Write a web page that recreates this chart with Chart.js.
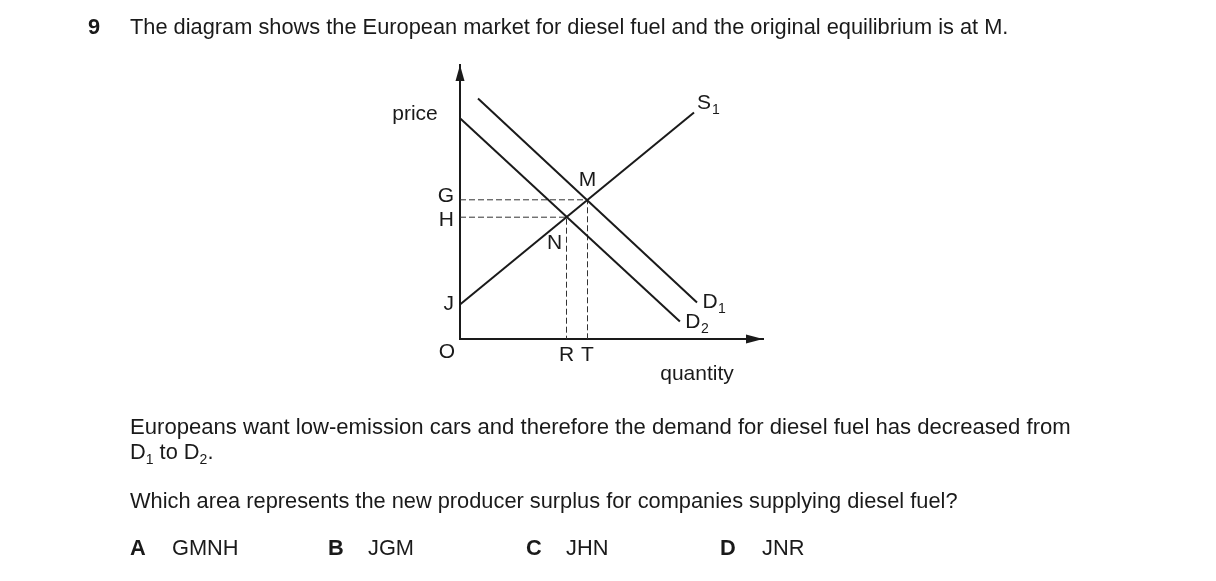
<!DOCTYPE html>
<html>
<head>
<meta charset="utf-8">
<title>Diesel market</title>
<script src="https://cdn.jsdelivr.net/npm/chart.js@4.4.1/dist/chart.umd.min.js"></script>
<style>
  body { margin: 0; background: #fff; font-family: "Liberation Sans", Arial, sans-serif; color: #1a1a1a; }
  #page { position: relative; width: 1216px; height: 581px; overflow: hidden; }
  #wrap { position: absolute; left: 0; top: 0; width: 1216px; height: 581px; }
  .t { position: absolute; font-size: 21.8px; line-height: 24px; white-space: nowrap; }
  .b { font-weight: bold; }
  .s { font-size: 14px; position: relative; top: 5px; line-height: 0; }
</style>
</head>
<body>
<div id="page">
  <div id="wrap"><canvas id="market"></canvas></div>
  <div class="t b" style="left:88px;top:15px">9</div>
  <div class="t" style="left:130px;top:15px">The diagram shows the European market for diesel fuel and the original equilibrium is at M.</div>
  <div class="t" style="left:130px;top:415px;font-size:22.1px">Europeans want low-emission cars and therefore the demand for diesel fuel has decreased from</div>
  <div class="t" style="left:130px;top:440px">D<span class="s">1</span> to D<span class="s">2</span>.</div>
  <div class="t" style="left:130px;top:489px">Which area represents the new producer surplus for companies supplying diesel fuel?</div>
  <div class="t b" style="left:130px;top:536px">A</div>
  <div class="t" style="left:172px;top:536px">GMNH</div>
  <div class="t b" style="left:328px;top:536px">B</div>
  <div class="t" style="left:368px;top:536px">JGM</div>
  <div class="t b" style="left:526px;top:536px">C</div>
  <div class="t" style="left:566px;top:536px">JHN</div>
  <div class="t b" style="left:720px;top:536px">D</div>
  <div class="t" style="left:762px;top:536px">JNR</div>
</div>
<script>
// curves (quantity, price)
var supplyQ = [0, 78];
var supplyP = [11.5, 75.5];
var demand1Q = [6, 79];
var demand1P = [80.2, 12.2];
var demand2Q = [0, 73.3];
var demand2P = [73.6, 5.8];

// equilibrium points
var priceG = 46.4, priceH = 40.6, priceJ = 11.5;
var qtyR = 35.5, qtyT = 42.5;

var yTickValues = [priceG, priceH, priceJ];
var yTickLabels = ['G', 'H', 'J'];
var xTickValues = [qtyR, qtyT];
var xTickLabels = ['R', 'T'];

var ink = '#1a1a1a';
var fam = '"Liberation Sans", Arial, sans-serif';
var font21 = '21px ' + fam;
var font14 = '14px ' + fam;
// G and H sit a little apart from their dashed lines (px, up is negative)
var yTickNudge = [-3.5, 3, 0];

function pts(q, p) {
    return q.map(function(v, i) { return { x: v, y: p[i] }; });
}

// text on the diagram, anchored at data coords + pixel nudge
var marks = [
    { text: 'price', x: 0, y: priceG, dx: -45, dy: -86 },
    { text: 'quantity', x: 79, y: 0, dx: 0, dy: 35 },
    { text: 'O', x: 0, y: 0, dx: -13, dy: 13 },
    { text: 'M', x: qtyT, y: priceG, dx: 0, dy: -20 },
    { text: 'N', x: qtyR, y: priceH, dx: -12, dy: 26 },
    { text: 'S', sub: '1', x: supplyQ[1], y: supplyP[1], dx: 10, dy: -9 },
    { text: 'D', sub: '1', x: demand1Q[1], y: demand1P[1], dx: 13, dy: 0 },
    { text: 'D', sub: '2', x: demand2Q[1], y: demand2P[1], dx: 13, dy: 1 }
];

var diagramText = {
    id: 'diagramText',
    afterDraw: function(chart) {
        var ctx = chart.ctx, a = chart.chartArea;
        var xs = chart.scales.x, ys = chart.scales.y;
        ctx.save();
        ctx.fillStyle = ink;
        // arrow heads
        ctx.beginPath();
        ctx.moveTo(a.left, a.top);
        ctx.lineTo(a.left - 4.5, a.top + 16);
        ctx.lineTo(a.left + 4.5, a.top + 16);
        ctx.closePath();
        ctx.fill();
        ctx.beginPath();
        ctx.moveTo(a.right, a.bottom);
        ctx.lineTo(a.right - 17, a.bottom - 4.5);
        ctx.lineTo(a.right - 17, a.bottom + 4.5);
        ctx.closePath();
        ctx.fill();

        ctx.textAlign = 'center';
        ctx.textBaseline = 'middle';
        marks.forEach(function(m) {
            var px = xs.getPixelForValue(m.x) + m.dx;
            var py = ys.getPixelForValue(m.y) + m.dy;
            ctx.font = font21;
            ctx.fillText(m.text, px, py);
            if (m.sub) {
                ctx.font = font14;
                ctx.fillText(m.sub, px + 12, py + 7);
            }
        });
        ctx.restore();
    }
};

var solid = { borderColor: ink, borderWidth: 2, pointRadius: 0, showLine: true, fill: false, clip: false };
var dashed = { borderColor: '#333', borderWidth: 1, borderDash: [6, 3], pointRadius: 0, showLine: true, fill: false, clip: false };

new Chart(document.getElementById('market'), {
    type: 'scatter',
    data: {
        datasets: [
            Object.assign({ label: 'S1', data: pts(supplyQ, supplyP) }, solid),
            Object.assign({ label: 'D1', data: pts(demand1Q, demand1P) }, solid),
            Object.assign({ label: 'D2', data: pts(demand2Q, demand2P) }, solid),
            Object.assign({ label: 'GM', data: [{ x: 0, y: priceG }, { x: qtyT, y: priceG }, { x: qtyT, y: 0 }] }, dashed),
            Object.assign({ label: 'HN', data: [{ x: 0, y: priceH }, { x: qtyR, y: priceH }, { x: qtyR, y: 0 }] }, dashed)
        ]
    },
    options: {
        responsive: true,
        maintainAspectRatio: false,
        animation: false,
        layout: { padding: { left: 420, top: 65, right: 453, bottom: 202 } },
        plugins: { legend: { display: false }, tooltip: { enabled: false } },
        scales: {
            x: {
                type: 'linear', min: 0, max: 101,
                grid: { display: false, drawTicks: false },
                border: { display: true, color: ink, width: 2 },
                afterBuildTicks: function(scale) {
                    scale.ticks = xTickValues.map(function(v) { return { value: v }; });
                },
                afterFit: function(scale) { scale.height = 40; },
                ticks: {
                    autoSkip: false, maxRotation: 0, padding: 4, color: ink,
                    font: { family: fam, size: 21 },
                    callback: function(v, i) { return xTickLabels[i]; }
                }
            },
            y: {
                type: 'linear', min: 0, max: 274 / 3,
                grid: { display: false, drawTicks: false },
                border: { display: true, color: ink, width: 2 },
                afterBuildTicks: function(scale) {
                    scale.ticks = yTickValues.map(function(v) { return { value: v }; });
                },
                afterFit: function(scale) { scale.width = 40; },
                ticks: {
                    autoSkip: false, padding: 6, color: ink,
                    // a two-line label with a tiny line height shifts the letter a few px
                    font: function(c) {
                        var n = yTickNudge[c.index] || 0;
                        return { family: fam, size: 21, lineHeight: n ? (Math.abs(n) * 2) + 'px' : 1.2 };
                    },
                    callback: function(v, i) {
                        var n = yTickNudge[i] || 0;
                        if (n < 0) return [yTickLabels[i], ''];
                        if (n > 0) return ['', yTickLabels[i]];
                        return yTickLabels[i];
                    }
                }
            }
        }
    },
    plugins: [diagramText]
});
</script>
</body>
</html>
